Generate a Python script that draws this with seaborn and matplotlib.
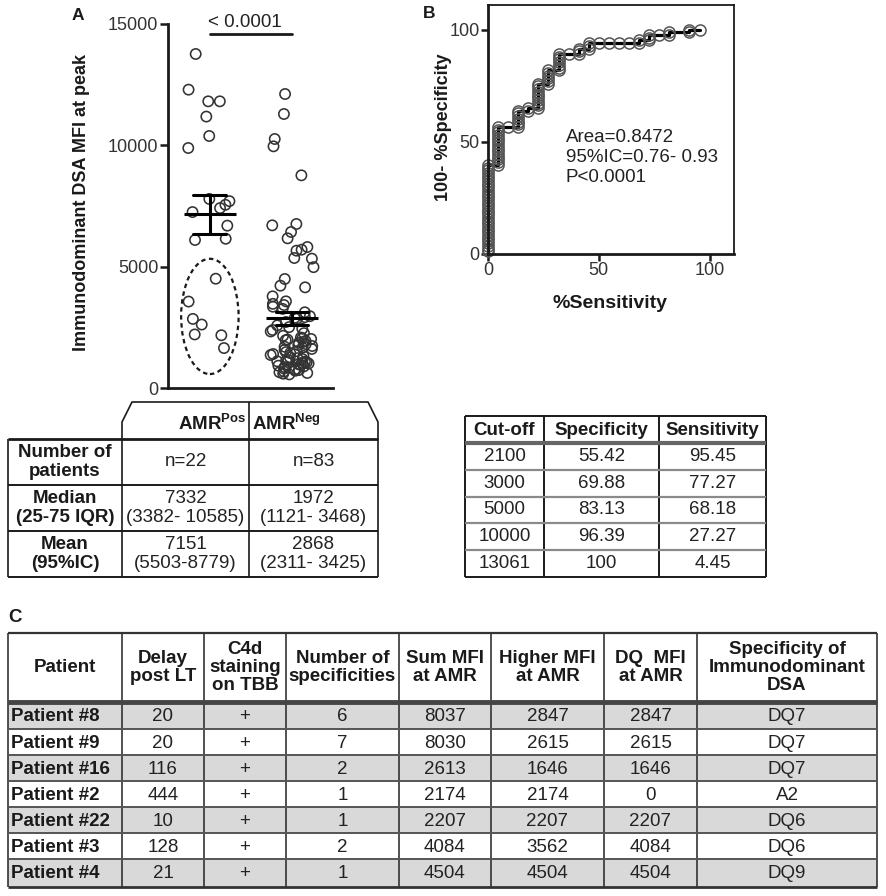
import numpy as np
import pandas as pd
import matplotlib
matplotlib.use("Agg")
import matplotlib.pyplot as plt
import seaborn as sns
from matplotlib.patches import Ellipse, Rectangle

# ---------------- data ----------------
groups = ["AMR Pos", "AMR Neg"]
amr_pos_mfi = [13764, 12294, 11813, 11813, 11185, 10385, 9890, 7790, 7700, 7550,
               7414, 7250, 6690, 6150, 6100,
               4504, 3562, 2847, 2615, 2207, 2174, 1646]
amr_neg_mfi = [12115, 11291, 10261, 9959, 8764, 6758, 6703, 6429, 6168, 5810,
               5700, 5659, 5357, 5330, 4980, 4492, 4217, 4148, 3777, 3571,
               3468, 3420, 3350, 3260, 3120,
               2960, 2920, 2890, 2860, 2720, 2580, 2510, 2440, 2390, 2330, 2260, 2150,
               2080, 2050, 2020, 1995, 1972,
               1940, 1900, 1860, 1810, 1770, 1730, 1700, 1660,
               1610, 1570, 1520, 1480, 1440, 1400, 1360, 1320, 1270, 1230, 1190, 1150,
               1121,
               1100, 1085, 1060, 1040, 1010, 980, 950, 920, 890, 860,
               830, 800, 770, 740, 710, 680, 650, 620, 590, 560]
p_value_label = "< 0.0001"
roc_stats_lines = ["Area=0.8472", "95%IC=0.76- 0.93", "P<0.0001"]

summary_row_labels = ["Number of\npatients", "Median\n(25-75 IQR)", "Mean\n(95%IC)"]
summary_pos = ["n=22", "7332\n(3382- 10585)", "7151\n(5503-8779)"]
summary_neg = ["n=83", "1972\n(1121- 3468)", "2868\n(2311- 3425)"]

cutoff_header = ["Cut-off", "Specificity", "Sensitivity"]
cutoffs = ["2100", "3000", "5000", "10000", "13061"]
cutoff_specificity = ["55.42", "69.88", "83.13", "96.39", "100"]
cutoff_sensitivity = ["95.45", "77.27", "68.18", "27.27", "4.45"]

patient_header = ["Patient", "Delay\npost LT", "C4d\nstaining\non TBB", "Number of\nspecificities",
                  "Sum MFI\nat AMR", "Higher MFI\nat AMR", "DQ  MFI\nat AMR",
                  "Specificity of\nImmunodominant\nDSA"]
patients = ["Patient #8", "Patient #9", "Patient #16", "Patient #2", "Patient #22", "Patient #3", "Patient #4"]
delay_post_lt = [20, 20, 116, 444, 10, 128, 21]
c4d_staining = ["+", "+", "+", "+", "+", "+", "+"]
n_specificities = [6, 7, 2, 1, 1, 2, 1]
sum_mfi = [8037, 8030, 2613, 2174, 2207, 4084, 4504]
higher_mfi = [2847, 2615, 1646, 2174, 2207, 3562, 4504]
dq_mfi = [2847, 2615, 1646, 0, 2207, 4084, 4504]
immuno_dsa = ["DQ7", "DQ7", "DQ7", "A2", "DQ6", "DQ6", "DQ9"]

# ---------------- style ----------------
sns.set_theme(style="ticks")
plt.rcParams["font.family"] = ["Liberation Sans", "DejaVu Sans"]
plt.rcParams["mathtext.fontset"] = "custom"
plt.rcParams["mathtext.rm"] = "Liberation Sans"
plt.rcParams["mathtext.bf"] = "Liberation Sans:bold"
plt.rcParams["mathtext.it"] = "Liberation Sans:italic"

W, H = 887, 896
fig = plt.figure(figsize=(W / 100, H / 100), dpi=100)
fig.patch.set_facecolor("white")


def px_axes(l, t, r, b, **kw):
    return fig.add_axes([l / W, 1 - b / H, (r - l) / W, (b - t) / H], **kw)


FS = 13
TFS = 13.5
INK = "#1a1a1a"

# ---------------- panel A ----------------
axA = px_axes(168, 24, 333, 388)
df = pd.DataFrame({
    "group": [groups[0]] * len(amr_pos_mfi) + [groups[1]] * len(amr_neg_mfi),
    "mfi": amr_pos_mfi + amr_neg_mfi,
})
np.random.seed(11)
sns.stripplot(data=df, x="group", y="mfi", order=groups, jitter=0.27, size=7.4,
              linewidth=1.15, edgecolor="#333333", color="white", ax=axA, zorder=2)
for coll in axA.collections:
    coll.set_facecolor("none")
sns.pointplot(data=df, x="group", y="mfi", order=groups, errorbar="se", capsize=0.4,
              color="black", marker="_", markersize=38, markeredgewidth=2.2,
              linestyle="none", err_kws={"linewidth": 2.2, "zorder": 5},
              ax=axA, zorder=5)
axA.set_xlim(-0.51, 1.5)
axA.set_ylim(0, 15000)
axA.set_yticks([0, 5000, 10000, 15000])
axA.set_xticks([])
axA.set_xlabel("")
axA.set_ylabel("Immunodominant DSA MFI at peak", fontsize=FS, fontweight="bold", color=INK)
axA.yaxis.set_label_coords(-0.47, 0.51)
sns.despine(ax=axA)
for s in ["left", "bottom"]:
    axA.spines[s].set_linewidth(2.0)
    axA.spines[s].set_color(INK)
axA.tick_params(axis="y", direction="out", length=6, width=1.8, pad=1, labelsize=FS,
                labelcolor="#333333", color=INK)
axA.add_patch(Ellipse((0, 2950), 0.70, 4750, fill=False, ls=(0, (2, 1.6)), lw=1.6,
                      ec=INK, zorder=3))
axA.plot([0, 1], [14600, 14600], color=INK, lw=2, clip_on=False)
axA.text(0.43, 15060, p_value_label, ha="center", va="center", fontsize=13.5,
         color="#222222", clip_on=False)
axA.set_facecolor("none")

# ---------------- panel B ----------------
axB = px_axes(488, 5, 734, 254)
pos_arr = np.array(amr_pos_mfi)
neg_arr = np.array(amr_neg_mfi)
vals = np.unique(np.concatenate([pos_arr, neg_arr]))
cuts = (vals[:-1] + vals[1:]) / 2
roc_df = pd.DataFrame({
    "fp": [100 * np.mean(pos_arr < c) for c in cuts],
    "tp": [100 * np.mean(neg_arr < c) for c in cuts],
})
sns.lineplot(data=roc_df, x="fp", y="tp", sort=False, estimator=None, color="black",
             linewidth=2.3, marker="o", markersize=8, markerfacecolor="none",
             markeredgecolor="#555555", markeredgewidth=1.1, clip_on=False, ax=axB)
axB.set_xlim(0, 111)
axB.set_ylim(0, 111)
axB.set_xticks([0, 50, 100])
axB.set_yticks([0, 50, 100])
axB.set_xlabel("%Sensitivity", fontsize=14, fontweight="bold", color=INK)
axB.set_ylabel("100- %Specificity", fontsize=FS, fontweight="bold", color=INK)
axB.xaxis.set_label_coords(0.496, -0.165)
axB.yaxis.set_label_coords(-0.145, 0.51)
for s in ["left", "bottom"]:
    axB.spines[s].set_linewidth(2.0)
    axB.spines[s].set_color(INK)
for s in ["top", "right"]:
    axB.spines[s].set_linewidth(1.3)
    axB.spines[s].set_color(INK)
axB.tick_params(direction="out", length=5, width=1.8, pad=1, labelsize=FS,
                labelcolor="#333333", color=INK)
axB.text(35, 55.5, "\n".join(roc_stats_lines), ha="left", va="top", fontsize=13.5,
         linespacing=1.2, color="#222222")
axB.set_facecolor("none")

# ---------------- tables / labels overlay ----------------
axT = fig.add_axes([0, 0, 1, 1], zorder=-1)
axT.set_xlim(0, W)
axT.set_ylim(H, 0)
axT.axis("off")


def hline(x0, x1, y, lw=1.2, c=INK):
    axT.plot([x0, x1], [y, y], color=c, lw=lw, solid_capstyle="butt")


def vline(x, y0, y1, lw=1.2, c=INK):
    axT.plot([x, x], [y0, y1], color=c, lw=lw, solid_capstyle="butt")


# panel letters
axT.text(78, 15, "A", ha="center", va="center", fontsize=12.5, fontweight="bold", color=INK)
axT.text(429, 14, "B", ha="center", va="center", fontsize=12.5, fontweight="bold", color=INK)
axT.text(15, 617, "C", ha="center", va="center", fontsize=13.5, fontweight="bold", color=INK)

# summary table (left)
SX = [8, 122, 249, 378]
SY = [439, 485, 531, 577]
axT.plot([122, 122, 132, 368, 378, 378], [439, 422, 402, 402, 422, 439], color=INK, lw=1.2)
vline(249, 402, 577)
vline(122, 439, 577)
vline(8, 439, 577)
vline(378, 439, 577)
hline(8, 378, 439, lw=2.0)
for y in SY[1:]:
    hline(8, 378, y, lw=1.4)
axT.text(246, 424, r"$\mathbf{AMR^{Pos}}$", ha="right", va="center", fontsize=TFS, color=INK)
axT.text(252, 424, r"$\mathbf{AMR^{Neg}}$", ha="left", va="center", fontsize=TFS, color=INK)
for i in range(3):
    yc = (SY[i] + SY[i + 1]) / 2
    axT.text((SX[0] + SX[1]) / 2, yc, summary_row_labels[i], ha="center", va="center",
             fontsize=TFS, fontweight="bold", linespacing=1.12, color=INK)
    axT.text((SX[1] + SX[2]) / 2, yc, summary_pos[i], ha="center", va="center",
             fontsize=TFS, linespacing=1.12, color="#222222")
    axT.text((SX[2] + SX[3]) / 2, yc, summary_neg[i], ha="center", va="center",
             fontsize=TFS, linespacing=1.12, color="#222222")

# cut-off table (right)
RX = [465, 544, 659, 766]
RY = [416, 443] + [443 + (577 - 443) * k / 5 for k in range(1, 6)]
for x in RX:
    vline(x, RY[0], RY[-1], lw=1.4)
hline(RX[0], RX[-1], RY[0], lw=1.4)
hline(RX[0], RX[-1], RY[1], lw=3.0, c="#666666")
for y in RY[2:-1]:
    hline(RX[0], RX[-1], y, lw=1.6, c="#8a8a8a")
hline(RX[0], RX[-1], RY[-1], lw=1.4)
for j, h in enumerate(cutoff_header):
    axT.text((RX[j] + RX[j + 1]) / 2, (RY[0] + RY[1]) / 2 + 1, h, ha="center", va="center",
             fontsize=TFS, fontweight="bold", color=INK)
cut_cols = [cutoffs, cutoff_specificity, cutoff_sensitivity]
for i in range(5):
    yc = (RY[i + 1] + RY[i + 2]) / 2
    for j in range(3):
        axT.text((RX[j] + RX[j + 1]) / 2, yc, cut_cols[j][i], ha="center", va="center",
                 fontsize=TFS, color="#222222")

# patient table (C)
CX = [8, 122, 204, 286, 399, 491, 604, 697, 877]
CY = [633, 702, 729, 755, 781, 807, 833, 859, 887]
for i in range(7):
    if i % 2 == 0:
        axT.add_patch(Rectangle((CX[0], CY[i + 1]), CX[-1] - CX[0], CY[i + 2] - CY[i + 1],
                                facecolor="#d9d9d9", edgecolor="none", zorder=0))
for x in CX:
    vline(x, CY[0], CY[-1], lw=1.2, c="#333333")
hline(CX[0], CX[-1], CY[0], lw=1.6, c="#333333")
hline(CX[0], CX[-1], CY[1], lw=3.5, c="#444444")
for y in CY[2:-1]:
    hline(CX[0], CX[-1], y, lw=1.4, c="#555555")
hline(CX[0], CX[-1], CY[-1], lw=2.0, c="#333333")
for j, h in enumerate(patient_header):
    axT.text((CX[j] + CX[j + 1]) / 2, (CY[0] + CY[1]) / 2, h, ha="center", va="center",
             fontsize=TFS, fontweight="bold", linespacing=1.05, color=INK)
patient_cols = [delay_post_lt, c4d_staining, n_specificities, sum_mfi, higher_mfi, dq_mfi, immuno_dsa]
for i in range(7):
    yc = (CY[i + 1] + CY[i + 2]) / 2 + 1
    axT.text(CX[0] + 3, yc, patients[i], ha="left", va="center", fontsize=TFS,
             fontweight="bold", color=INK)
    for j, col in enumerate(patient_cols):
        axT.text((CX[j + 1] + CX[j + 2]) / 2, yc, str(col[i]), ha="center", va="center",
                 fontsize=TFS, color="#222222")

fig.savefig("out.png", dpi=100, facecolor="white")
